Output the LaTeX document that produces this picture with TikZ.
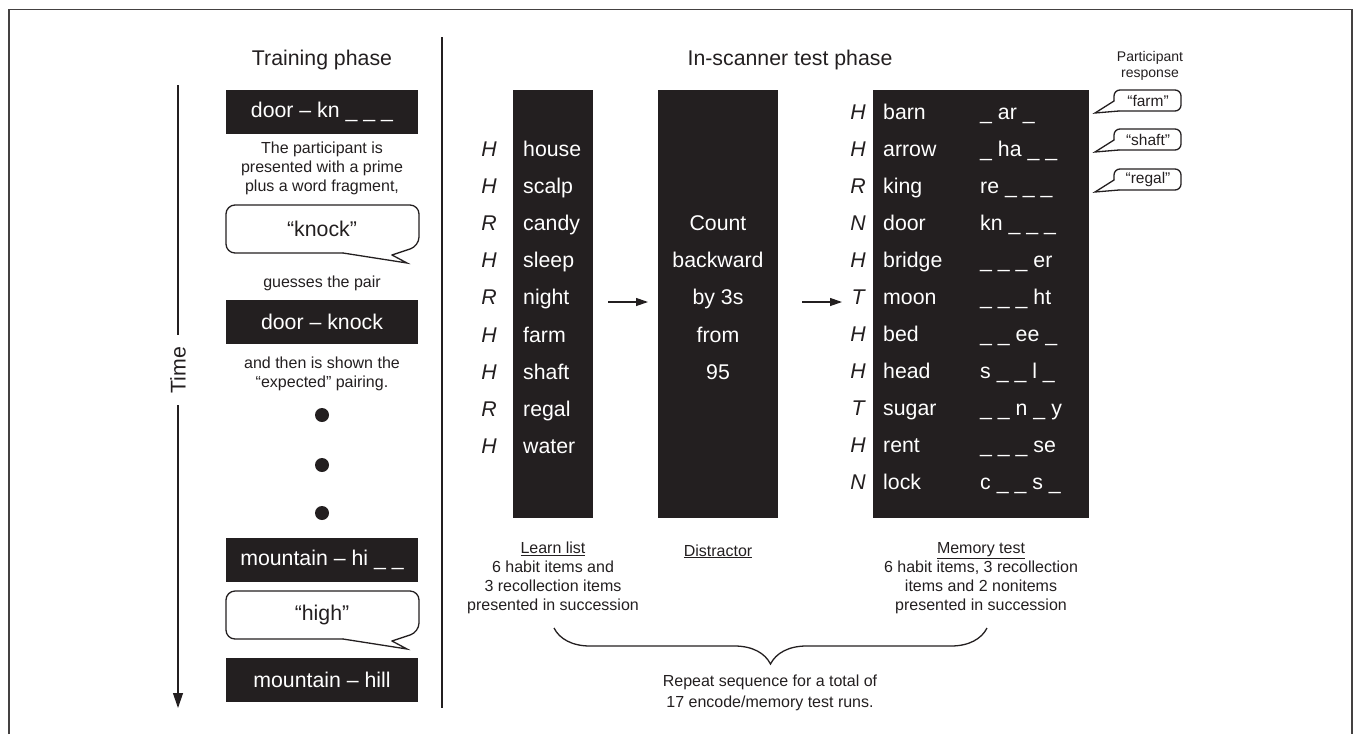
\documentclass[tikz,border=0pt]{standalone}
\usepackage{fontspec}
\setmainfont{Liberation Sans}
\usetikzlibrary{arrows.meta,decorations.pathreplacing}
\definecolor{ink}{HTML}{231F20}
\newcommand\bigbubble[1]{%
  \draw[bubline, rounded corners=9pt] (343,{#1+48}) -- (226,{#1+48}) -- (226,#1) -- (419,#1) -- (419,{#1+41}) -- (392,{#1+50});
  \draw[bubline, line join=miter] (392,{#1+50}) -- (407,{#1+58}) -- (343,{#1+48});}
\newcommand\respbub[1]{%
  \draw[bubline, rounded corners=6pt] (1114,{#1+11}) -- (1114,#1) -- (1181,#1) -- (1181,{#1+21}) -- (1119,{#1+21});
  \draw[bubline, line join=miter] (1114,{#1+11}) -- (1095,{#1+23}) -- (1119,{#1+21});}
\begin{document}
\begin{tikzpicture}[x=1pt,y=-1pt,
  big/.style={font=\fontsize{21.3}{25}\selectfont, text=ink},
  small/.style={font=\fontsize{16}{19}\selectfont, text=ink, align=center},
  tiny/.style={font=\fontsize{14}{16}\selectfont, text=ink, align=center},
  resp/.style={font=\fontsize{15.5}{18}\selectfont, text=ink, inner sep=0pt},
  blk/.style={fill=ink, text=white, font=\fontsize{21.3}{25}\selectfont, minimum width=192pt, minimum height=44pt, inner sep=0pt},
  col/.style={fill=ink, inner sep=0pt},
  wr/.style={font=\fontsize{21.3}{25}\selectfont, text height=15pt, text depth=0pt, inner sep=0pt, anchor=west},
  tag/.style={font=\fontsize{21.3}{25}\selectfont\itshape, text=ink, text height=15pt, text depth=0pt, inner sep=0pt, anchor=center},
  bubline/.style={draw=ink, line width=1.3pt, line cap=round, line join=round},
  arr/.style={draw=ink, line width=1.2pt, -{Triangle[length=12pt,width=8pt]}},
]
\useasboundingbox (0,0) rectangle (1356,734);
% frame
\draw[draw=ink!85, line width=1.5pt] (9,734) -- (9,9.5) -- (1352,9.5) -- (1352,734);
% divider
\coordinate (divT) at (442,37);
\coordinate (divB) at (442,708);
\draw[ink, line width=1.2pt] (divT) -- (divB);
% time arrow
\coordinate (tT) at (178,85);
\coordinate (tB) at (178,708);
\draw[ink, line width=1.2pt, -{Triangle[length=15pt,width=10pt]}] (tT) -- (tB);
\node[big, rotate=90, fill=white, inner xsep=12pt, inner ysep=1pt] (time) at (178,370) {Time};

% ---------- training phase
\node[big] (ttitle) at (322,60) {Training phase};
\node[blk] (tb1) at (322,112) {door – kn \_ \_ \_};
\node[small] (tx1) at (322,168) {The participant is\\presented with a prime\\plus a word fragment,};
\node[big] (bub1) at (322,229) {“knock”};
\bigbubble{205}
\node[small] (tx2) at (322,283) {guesses the pair};
\node[blk] (tb2) at (322,321.5) {door – knock};
\node[small] (tx3) at (322,374) {and then is shown the\\“expected” pairing.};
\fill[ink] (322,415) circle (7pt);
\fill[ink] (322,465) circle (7pt);
\fill[ink] (322,513) circle (7pt);
\node[blk] (tb3) at (322,560) {mountain – hi \_ \_};
\node[big] (bub2) at (322,615) {“high”};
\bigbubble{591}
\node[blk] (tb4) at (322,680) {mountain – hill};

% ---------- in-scanner phase
\node[big] (stitle) at (790,60) {In-scanner test phase};
\node[col, minimum width=80pt, minimum height=428pt] (learn) at (553,304) {};
\node[col, minimum width=120pt, minimum height=428pt] (distr) at (718,304) {};
\node[col, minimum width=216pt, minimum height=428pt] (mem) at (981,304) {};

\foreach \t/\w [count=\i from 0] in {H/house,H/scalp,R/candy,H/sleep,R/night,H/farm,H/shaft,R/regal,H/water}{
  \node[tag] (lt\i) at (489,{149+37.1*\i}) {\t};
  \node[wr, text=white] (lw\i) at (523,{149+37.1*\i}) {\w};
}
\foreach \w [count=\i from 2] in {Count,backward,by 3s,from,95}{
  \node[wr, anchor=center, text=white] (dt\i) at (718,{149+37.1*\i}) {\w};
}
\foreach \t/\w/\f [count=\i from 0] in {H/barn/\_ ar \_, H/arrow/\_ ha \_ \_, R/king/re \_ \_ \_, N/door/kn \_ \_ \_, H/bridge/\_ \_ \_ er, T/moon/\_ \_ \_ ht, H/bed/\_ \_ ee \_, H/head/s \_ \_ l \_, T/sugar/\_ \_ n \_ y, H/rent/\_ \_ \_ se, N/lock/c \_ \_ s \_}{
  \node[tag] (mt\i) at (858,{112+37*\i}) {\t};
  \node[wr, text=white] (mw\i) at (883,{112+37*\i}) {\w};
  \node[wr, text=white] (mf\i) at (980,{112+37*\i}) {\f};
}
% arrows
\coordinate (a1s) at (608,302);
\coordinate (a1e) at (648,302);
\coordinate (a2s) at (802,302);
\coordinate (a2e) at (842,302);
\draw[arr] (a1s) -- (a1e);
\draw[arr] (a2s) -- (a2e);

% participant responses
\node[tiny] (presp) at (1150,66) {Participant\\response};
\node[resp] (r1) at (1148,100.5) {“farm”};
\respbub{90}
\node[resp] (r2) at (1148,139.5) {“shaft”};
\respbub{129}
\node[resp] (r3) at (1148,179.5) {“regal”};
\respbub{169}

% bottom labels
\node[small] (ll) at (553,578) {\underline{Learn list}\\6 habit items and\\3 recollection items\\presented in succession};
\node[small, anchor=north] (dl) at (718,541) {\underline{Distractor}};
\node[small] (ml) at (981,578) {\underline{Memory test}\\6 habit items, 3 recollection\\items and 2 nonitems\\presented in succession};
\coordinate (brR) at (987,628);
\coordinate (brL) at (554,628);
\draw[ink, line width=1.3pt, decorate, decoration={brace, amplitude=36pt}] (brR) -- (brL);
\node[small, font=\fontsize{16}{20.5}\selectfont] (rep) at (770,693) {Repeat sequence for a total of\\17 encode/memory test runs.};
\end{tikzpicture}
\end{document}
